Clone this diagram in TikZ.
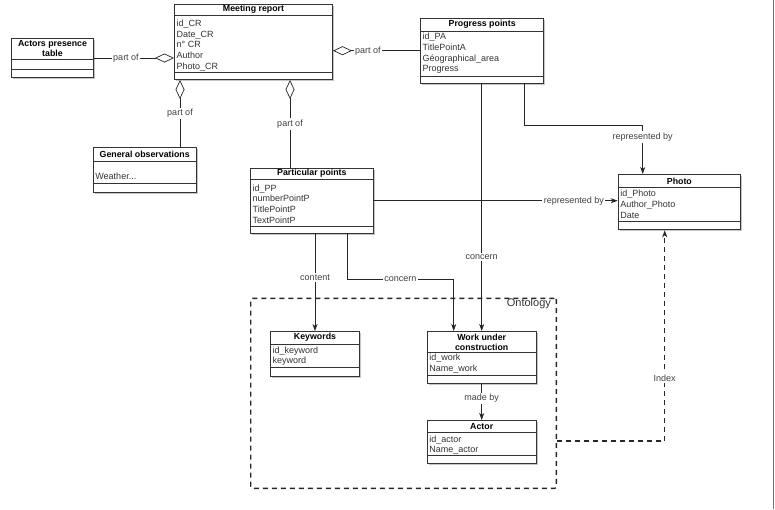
\documentclass[tikz,border=0pt]{standalone}
\usepackage{fontspec}
\setmainfont{Liberation Sans}
\usetikzlibrary{arrows.meta,shadows}
\tikzset{
  clsbox/.style={draw=black!80,line width=1pt,fill=white,inner sep=0pt,drop shadow={shadow xshift=1.5pt,shadow yshift=-1.5pt,fill=black!45}},
  clssep/.style={draw=black!80,line width=.6pt},
  clshead/.style={font=\fontsize{8.8}{10}\selectfont\bfseries,align=center,inner sep=0pt},
  clsattr/.style={font=\fontsize{9}{10.8}\selectfont,align=left,anchor=north west,inner sep=0pt,text=black!80},
  lbl/.style={fill=white,font=\fontsize{9}{10}\selectfont,text=black!75,inner sep=1.5pt},
  conn/.style={draw=black!85,line width=.7pt},
  arr/.style={conn,arrows={-Stealth[length=7pt,width=5pt,inset=2pt]}},
  aggr/.style={conn,arrows={Diamond[open,length=19pt,width=9pt]-}},
  dashbox/.style={draw=black!85,line width=1.4pt,dash pattern=on 5pt off 4pt}
}
% name, corner, width, height, head, foot, gap, title, attributes
\newcommand\umlclass[9]{%
  \node[clsbox,minimum width=#3pt,minimum height=#4pt,anchor=north west] (#1) at (#2) {};
  \draw[clssep] (#1.north west) ++(0,#5) -- ++(#3,0);
  \draw[clssep] (#1.south west) ++(0,-#6) -- ++(#3,0);
  \path (#1.north) ++(0,#5/2) node[clshead] {#8};
  \path (#1.north west) ++(2.5,#5+#7) node[clsattr] {#9};
}
\begin{document}
\begin{tikzpicture}[x=1pt,y=-1pt]
\useasboundingbox (0,0) rectangle (775,509);
\node[dashbox,rounded corners=2pt,minimum width=305.7pt,minimum height=190pt,anchor=north west,inner sep=0pt] (ontology) at (250,297.7) {};
\node[font=\fontsize{11}{12}\selectfont,text=black!80,anchor=north east,inner sep=0pt] (ontolbl) at ([xshift=-6pt,yshift=-.5pt]ontology.north east) {Ontology};
% classes
\umlclass{meeting}{174,4}{158}{75}{11}{8}{4.5}{Meeting report}{id\_CR\\Date\_CR\\n° CR\\Author\\Photo\_CR}
\umlclass{actors}{11,38}{82}{39}{21}{9}{0}{Actors presence\\table}{}
\umlclass{genobs}{92.7,147.3}{103}{44.4}{13.7}{9.4}{11.8}{General observations}{Weather...}
\umlclass{partic}{250,167.7}{122.7}{65}{11.6}{7.7}{5}{Particular points}{id\_PP\\numberPointP\\TitlePointP\\TextPointP}
\umlclass{progress}{420,17.7}{123.3}{65}{14}{7.7}{1}{Progress points}{id\_PA\\TitlePointA\\Géographical\_area\\Progress}
\umlclass{photo}{617.7,174}{122.3}{55.3}{13.7}{9.3}{2}{Photo}{id\_Photo\\Author\_Photo\\Date}
\umlclass{keywords}{270,331}{89}{44.7}{13.3}{9.7}{2}{Keywords}{id\_keyword\\keyword}
\umlclass{work}{426.7,331}{109}{51.7}{21.7}{8.7}{1.3}{Work under\\construction}{id\_work\\Name\_work}
\umlclass{actor}{426.7,420}{109}{43.3}{12.7}{9}{2.6}{Actor}{id\_actor\\Name\_actor}
% aggregations
\path ([xshift=6pt]meeting.south west) coordinate (m1) ([xshift=116pt]meeting.south west) coordinate (m2);
\draw[aggr] (meeting.west |- actors.east) -- node[lbl,pos=.6]{part of} (actors.east);
\draw[aggr] (meeting.east |- progress.west) -- node[lbl,pos=.4]{part of} (progress.west);
\draw[aggr] (m1) -- node[lbl]{part of} (m1 |- genobs.north);
\draw[aggr] (m2) -- node[lbl]{part of} (m2 |- partic.north);
% associations
\draw[arr] ([xshift=104pt]progress.south west) -- ++(0,41.6) -| node[lbl,pos=.62]{represented by} ([xshift=25pt]photo.north west);
\draw[arr] (partic.east) -- node[lbl,pos=.82]{represented by} (photo.west |- partic.east);
\draw[arr] (progress.south -| work.north) -- node[lbl,pos=.7]{concern} (work.north);
\draw[arr] (partic.south -| keywords.north) -- node[lbl,pos=.45]{content} (keywords.north);
\draw[arr] ([xshift=97pt]partic.south west) -- ++(0,45.6) -| node[lbl,pos=.25]{concern} ([xshift=27pt]work.north west);
\draw[arr] (work.south) -- node[lbl,pos=.4]{made by} (actor.north);
\draw[arr,dashbox] ([yshift=48pt]ontology.south east) -| node[lbl,pos=.65]{Index} ([xshift=47pt]photo.south west);
\draw[black!55,line width=1pt] (773.5,0) -- (773.5,509);
\end{tikzpicture}
\end{document}
